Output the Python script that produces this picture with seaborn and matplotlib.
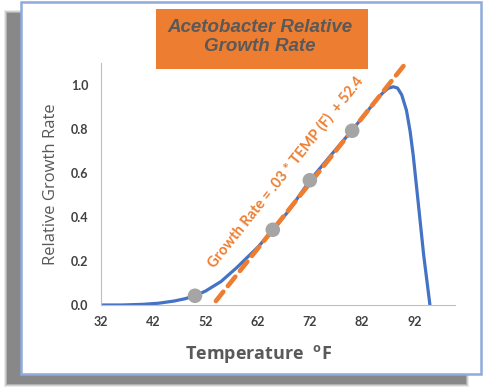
import math
import matplotlib
matplotlib.use("Agg")
import matplotlib.pyplot as plt
import seaborn as sns
from matplotlib.patches import Rectangle

# growth curve (temperature in F, relative rate)
temp_f = [32, 36, 40, 43, 46, 48, 50, 52, 55, 58, 62, 65, 68, 72, 76, 80,
          83, 85, 86, 87, 88, 88.8, 89.6, 90.5, 91.2, 91.8, 92.8, 93.8, 95]
growth = [0.0, 0.0, 0.003, 0.008, 0.018, 0.028, 0.042, 0.063, 0.107, 0.17, 0.262,
          0.342, 0.43, 0.566, 0.68, 0.792, 0.88, 0.94, 0.965, 0.985, 0.992,
          0.986, 0.955, 0.885, 0.79, 0.68, 0.455, 0.227, 0.0]

# grey sample points sitting on the curve
point_temp = [50, 64.9, 72, 80.1]
point_rate = [0.042, 0.342, 0.567, 0.792]

# linear fit drawn as the dashed orange line
trend_temp = [54.0, 90.4]
trend_rate = [0.018, 1.1]
trend_label = "Growth Rate = .03 * TEMP (F)  + 52.4"

x_ticks = [32, 42, 52, 62, 72, 82, 92]
y_ticks = [0.0, 0.2, 0.4, 0.6, 0.8, 1.0]

BLUE = "#4472C4"
ORANGE = "#ED7D31"
GREY = "#A5A5A5"
TEXT = "#595959"

W, H = 483, 392
sns.set_theme(style="white")
plt.rcParams["font.family"] = ["DejaVu Sans"]

fig = plt.figure(figsize=(W / 100, H / 100), dpi=100)
fig.patch.set_facecolor("white")


def box(x0, y0, x1, y1, **kw):
    # pixel box (top-left origin) -> figure patch
    r = Rectangle((x0 / W, 1 - y1 / H), (x1 - x0) / W, (y1 - y0) / H,
                  transform=fig.transFigure, **kw)
    fig.patches.append(r)
    return r


# soft drop shadow behind the panel
for i, a in enumerate([0.12, 0.18, 0.28, 0.45]):
    box(4 + i, 10 + i, 469 - i, 387 - i, facecolor="#5a5a5a", edgecolor="none",
        alpha=a, zorder=0)
# white panel with a light blue frame
box(21, 2, 481, 374, facecolor="white", edgecolor="#8FAADC", linewidth=1.8, zorder=1)

# title box
box(156, 9, 368, 69, facecolor=ORANGE, edgecolor="none", zorder=2)
fig.text(260 / W, 1 - 37 / H, "Acetobacter Relative\nGrowth Rate", ha="center",
         va="center", fontsize=13.5, fontweight="bold", fontstyle="italic",
         color=TEXT, family=["Liberation Sans", "DejaVu Sans"],
         linespacing=1.15, zorder=3)

ax = fig.add_axes([101 / W, 1 - 305 / H, 354 / W, 242 / H], zorder=5)
ax.set_facecolor("none")

sns.lineplot(x=temp_f, y=growth, ax=ax, color=BLUE, linewidth=2.3, zorder=2)
sns.lineplot(x=trend_temp, y=trend_rate, ax=ax, color=ORANGE, linewidth=3.3, zorder=3)
ax.lines[-1].set_dashes([2.6, 1.6])
ax.lines[-1].set_dash_capstyle("round")
sns.scatterplot(x=point_temp, y=point_rate, ax=ax, color=GREY, s=110,
                edgecolor="none", zorder=4)

ax.set_xlim(32, 99.8)
ax.set_ylim(0, 1.1)
ax.set_xticks(x_ticks)
ax.set_yticks(y_ticks)
ax.set_yticklabels([f"{v:.1f}" for v in y_ticks])
ax.tick_params(length=0, labelsize=9, labelcolor="#404040")
ax.tick_params(axis="y", pad=9)
ax.tick_params(axis="x", pad=8)
for lab in ax.get_xticklabels() + ax.get_yticklabels():
    lab.set_family(["Lato", "DejaVu Sans"])
    lab.set_fontweight("bold")
for side in ["top", "right"]:
    ax.spines[side].set_visible(False)
for side in ["left", "bottom"]:
    ax.spines[side].set_color("#BFBFBF")
    ax.spines[side].set_linewidth(0.8)

ax.set_xlabel("Temperature  $^{\\mathregular{o}}$F", fontsize=13, fontweight="bold",
              color=TEXT, family=["Open Sans", "DejaVu Sans"])
ax.xaxis.set_label_coords(0.446, -0.155)
ax.set_ylabel("Relative Growth Rate", fontsize=12, color=TEXT,
              family=["Open Sans", "DejaVu Sans"])
ax.yaxis.set_label_coords(-0.12, 0.5)

# label rotated along the trend line
p1 = ax.transData.transform((trend_temp[0], trend_rate[0]))
p2 = ax.transData.transform((trend_temp[1], trend_rate[1]))
angle = math.degrees(math.atan2(p2[1] - p1[1], p2[0] - p1[0]))
ax.text(67.3, 0.605, trend_label, rotation=angle, rotation_mode="anchor",
        ha="center", va="center", fontsize=10.5, fontweight="bold", color=ORANGE,
        family=["Lato", "DejaVu Sans"], zorder=6)

fig.savefig("out.png", dpi=100)
